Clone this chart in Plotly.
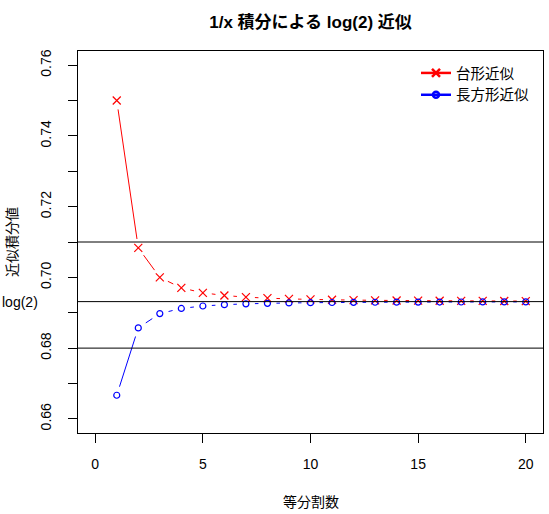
import math
import plotly.graph_objects as go

# division counts and approximations of the integral of 1/x over [1, 2]
n_div = list(range(1, 21))
trapezoid = [0.750000, 0.708333, 0.700000, 0.697024, 0.695635, 0.694877, 0.694417,
             0.694122, 0.693917, 0.693771, 0.693663, 0.693581, 0.693517, 0.693466,
             0.693425, 0.693391, 0.693363, 0.693340, 0.693320, 0.693303]
rectangle = [0.666667, 0.685714, 0.689755, 0.691220, 0.691908, 0.692284, 0.692512,
             0.692661, 0.692762, 0.692835, 0.692889, 0.692931, 0.692963, 0.692988,
             0.693009, 0.693026, 0.693040, 0.693051, 0.693061, 0.693069]
ref_lines = [0.71, math.log(2), 0.68]
y_ticks = [0.66, 0.67, 0.68, 0.69, 0.70, 0.71, 0.72, 0.73, 0.74, 0.75, 0.76]
y_labels = ["0.66", "", "0.68", "", "0.70", "", "0.72", "", "0.74", "", "0.76"]
x_ticks = [0, 5, 10, 15, 20]

FONT = "Liberation Sans, Arial, Noto Sans CJK JP"
W, H = 549, 514
L, R, T, B = 78, 6, 51, 81
XR = [-0.8, 20.8]
YR = [0.656, 0.764]
PW, PH = W - L - R, H - T - B
px_x = PW / (XR[1] - XR[0])
px_y = PH / (YR[1] - YR[0])


def gapped(xs, ys, gap=9):
    # R type="b": segments stop short of each point
    sx, sy = [], []
    for i in range(len(xs) - 1):
        dx = (xs[i + 1] - xs[i]) * px_x
        dy = (ys[i + 1] - ys[i]) * px_y
        d = math.hypot(dx, dy)
        if d <= 2 * gap:
            continue
        f = gap / d
        sx += [xs[i] + (xs[i + 1] - xs[i]) * f, xs[i + 1] - (xs[i + 1] - xs[i]) * f, None]
        sy += [ys[i] + (ys[i + 1] - ys[i]) * f, ys[i + 1] - (ys[i + 1] - ys[i]) * f, None]
    return sx, sy


fig = go.Figure()

for yv in ref_lines:
    fig.add_hline(y=yv, line=dict(color="black", width=1))

series = [
    ("台形近似", trapezoid, "red", dict(symbol="x-thin-open", size=8, line=dict(width=1.2, color="red"))),
    ("長方形近似", rectangle, "blue", dict(symbol="circle-open", size=6, line=dict(width=1.2, color="blue"))),
]
for name, vals, col, mk in series:
    sx, sy = gapped(n_div, vals)
    fig.add_trace(go.Scatter(x=sx, y=sy, mode="lines", line=dict(color=col, width=1),
                             showlegend=False, hoverinfo="skip"))
    fig.add_trace(go.Scatter(x=n_div, y=vals, mode="markers", marker=dict(color=col, **mk),
                             showlegend=False, name=name))
    # legend entry only
    fig.add_trace(go.Scatter(x=[None], y=[None], mode="lines+markers", name=name,
                             line=dict(color=col, width=2.5),
                             marker=dict(color=col, symbol=mk["symbol"], size=mk["size"],
                                         line=dict(width=2.5, color=col))))

fig.update_layout(
    width=W, height=H,
    margin=dict(l=L, r=R, t=T, b=B),
    paper_bgcolor="white", plot_bgcolor="white",
    font=dict(family=FONT, size=13, color="black"),
    title=dict(text="<b>1/x 積分による log(2) 近似</b>", x=(L + PW / 2) / W, xanchor="center",
               y=1 - 22 / H, yanchor="middle", font=dict(size=17)),
    legend=dict(x=(416 - L) / PW, y=1 - 6 / PH, xanchor="left", yanchor="top",
                bgcolor="rgba(0,0,0,0)", itemwidth=30, tracegroupgap=0, font=dict(size=14.5)),
    showlegend=True,
)
fig.update_xaxes(range=XR, tickvals=x_ticks, ticks="outside", ticklen=9, tickcolor="black",
                 showline=True, linecolor="black", linewidth=1, mirror=True,
                 showgrid=False, zeroline=False, ticklabelstandoff=9,
                 tickfont=dict(size=14))
fig.update_yaxes(range=YR, tickvals=y_ticks, ticktext=y_labels, tickangle=-90,
                 ticks="outside", ticklen=9, tickcolor="black",
                 showline=True, linecolor="black", linewidth=1, mirror=True,
                 showgrid=False, zeroline=False, ticklabelstandoff=11,
                 tickfont=dict(size=14))

fig.add_annotation(text="近似積分値", xref="paper", yref="paper", x=-(L - 12) / PW,
                   y=0.5, textangle=-90, showarrow=False, xanchor="center", yanchor="middle",
                   font=dict(size=14))
fig.add_annotation(text="等分割数", xref="paper", yref="paper", x=0.5,
                   y=-(502 - 433) / PH, showarrow=False,
                   xanchor="center", yanchor="middle", font=dict(size=14))
fig.add_annotation(text="log(2)", xref="paper", yref="y", x=-(L - 40) / PW,
                   y=math.log(2), showarrow=False, xanchor="right", yanchor="middle",
                   font=dict(size=14))

# drop the default 8px body margin so the figure fills the window
fig.write_html("out.html", config={"displayModeBar": False},
               post_script="document.body.style.margin='0';")
